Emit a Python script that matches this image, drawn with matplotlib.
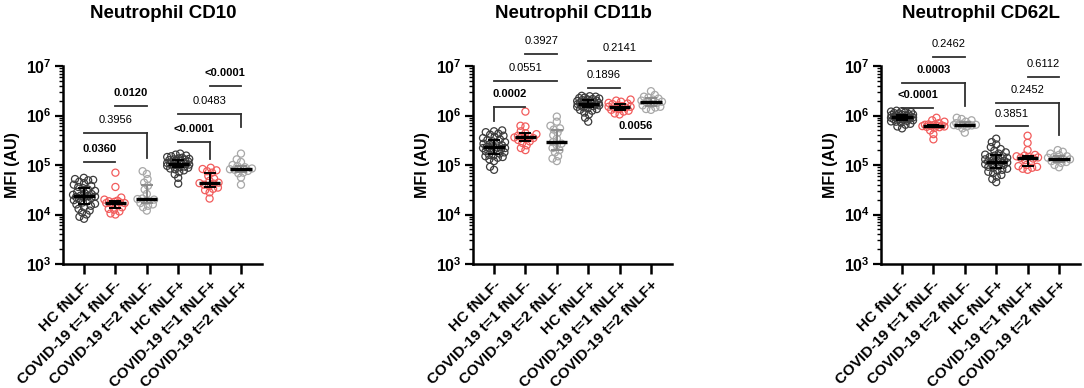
import numpy as np
import matplotlib
matplotlib.use("Agg")
import matplotlib.pyplot as plt

plt.rcParams['font.family'] = ['Liberation Sans', 'DejaVu Sans']
plt.rcParams['mathtext.fontset'] = 'custom'
plt.rcParams['mathtext.rm'] = 'Liberation Sans:bold'
plt.rcParams['mathtext.bf'] = 'Liberation Sans:bold'
plt.rcParams['mathtext.default'] = 'bf'

groups = ['HC fNLF-', 'COVID-19 t=1 fNLF-', 'COVID-19 t=2 fNLF-',
          'HC fNLF+', 'COVID-19 t=1 fNLF+', 'COVID-19 t=2 fNLF+']
titles = ['Neutrophil CD10', 'Neutrophil CD11b', 'Neutrophil CD62L']
ytick_vals = [1e3, 1e4, 1e5, 1e6, 1e7]
ytick_labels = [r'$\mathbf{10^{3}}$', r'$\mathbf{10^{4}}$', r'$\mathbf{10^{5}}$',
                r'$\mathbf{10^{6}}$', r'$\mathbf{10^{7}}$']

# ---- CD10 ----
cd10_hc_neg = [8.2e3, 9.0e3, 1.0e4, 1.1e4, 1.2e4, 1.3e4, 1.4e4, 1.5e4, 1.6e4, 1.65e4, 1.75e4, 1.85e4,
               1.95e4, 2.05e4, 2.15e4, 2.2e4, 2.25e4, 2.3e4, 2.35e4, 2.4e4, 2.5e4, 2.6e4, 2.7e4, 2.85e4,
               3.0e4, 3.2e4, 3.4e4, 3.6e4, 3.8e4, 4.0e4, 4.3e4, 4.6e4, 4.9e4, 5.2e4, 5.5e4, 5.0e4]
cd10_c1_neg = [1.0e4, 1.05e4, 1.15e4, 1.25e4, 1.3e4, 1.4e4, 1.55e4, 1.65e4, 1.7e4, 1.7e4, 1.75e4,
               1.8e4, 1.85e4, 1.9e4, 2.0e4, 2.2e4, 3.6e4, 7.0e4]
cd10_c2_neg = [1.2e4, 1.4e4, 1.5e4, 1.6e4, 1.7e4, 1.9e4, 2.0e4, 2.05e4, 2.1e4, 2.6e4, 3.2e4, 3.8e4,
               4.4e4, 5.2e4, 6.6e4, 7.5e4]
cd10_hc_pos = [4.2e4, 5.5e4, 6.5e4, 7.2e4, 7.8e4, 8.2e4, 8.5e4, 8.8e4, 9.0e4, 9.3e4, 9.6e4, 9.8e4,
               1.0e5, 1.02e5, 1.04e5, 1.05e5, 1.05e5, 1.06e5, 1.08e5, 1.1e5, 1.12e5, 1.15e5, 1.18e5,
               1.2e5, 1.22e5, 1.25e5, 1.28e5, 1.3e5, 1.33e5, 1.36e5, 1.4e5, 1.45e5, 1.5e5, 1.55e5,
               1.62e5, 1.7e5]
cd10_c1_pos = [2.1e4, 2.8e4, 3.1e4, 3.3e4, 3.5e4, 3.8e4, 4.0e4, 4.2e4, 4.3e4, 4.4e4, 4.8e4, 5.3e4,
               6.0e4, 7.0e4, 7.5e4, 7.8e4, 8.3e4, 8.8e4]
cd10_c2_pos = [4.0e4, 5.6e4, 6.8e4, 7.0e4, 7.6e4, 8.0e4, 8.2e4, 8.2e4, 8.5e4, 9.0e4, 9.5e4, 1.0e5,
               1.15e5, 1.3e5, 1.7e5]

# ---- CD11b ----
cd11b_hc_neg = [8.0e4, 9.2e4, 1.2e5, 1.3e5, 1.4e5, 1.45e5, 1.5e5, 1.55e5, 1.6e5, 1.7e5, 1.8e5, 1.9e5,
                2.0e5, 2.1e5, 2.15e5, 2.2e5, 2.2e5, 2.25e5, 2.3e5, 2.4e5, 2.5e5, 2.6e5, 2.7e5, 2.8e5,
                2.9e5, 3.0e5, 3.2e5, 3.3e5, 3.5e5, 3.7e5, 3.9e5, 4.1e5, 4.3e5, 4.6e5, 4.8e5, 5.0e5]
cd11b_c1_neg = [2.0e5, 2.2e5, 2.5e5, 2.8e5, 3.0e5, 3.2e5, 3.4e5, 3.5e5, 3.6e5, 3.6e5, 3.7e5, 3.9e5,
                4.2e5, 4.4e5, 4.8e5, 6.0e5, 6.2e5, 1.2e6]
cd11b_c2_neg = [1.2e5, 1.35e5, 1.5e5, 1.8e5, 2.0e5, 2.2e5, 2.5e5, 2.7e5, 2.9e5, 3.4e5, 4.0e5, 4.5e5,
                5.2e5, 5.5e5, 6.2e5, 7.5e5, 9.5e5]
cd11b_hc_pos = [7.5e5, 9.0e5, 1.05e6, 1.15e6, 1.25e6, 1.3e6, 1.35e6, 1.4e6, 1.45e6, 1.5e6, 1.55e6,
                1.6e6, 1.62e6, 1.65e6, 1.67e6, 1.7e6, 1.7e6, 1.72e6, 1.75e6, 1.78e6, 1.8e6, 1.83e6,
                1.86e6, 1.9e6, 1.93e6, 1.96e6, 2.0e6, 2.05e6, 2.1e6, 2.15e6, 2.2e6, 2.25e6, 2.3e6,
                2.4e6, 2.45e6, 2.5e6]
cd11b_c1_pos = [1.05e6, 1.1e6, 1.2e6, 1.25e6, 1.3e6, 1.35e6, 1.4e6, 1.45e6, 1.5e6, 1.5e6, 1.55e6,
                1.6e6, 1.7e6, 1.75e6, 1.8e6, 1.9e6, 2.0e6, 2.1e6]
cd11b_c2_pos = [1.3e6, 1.35e6, 1.45e6, 1.5e6, 1.6e6, 1.7e6, 1.8e6, 1.85e6, 1.9e6, 2.0e6, 2.1e6, 2.2e6,
                2.3e6, 2.4e6, 2.6e6, 3.1e6]

# ---- CD62L ----
cd62l_hc_neg = [5.5e5, 6.0e5, 6.5e5, 6.8e5, 7.2e5, 7.5e5, 7.6e5, 7.8e5, 8.0e5, 8.2e5, 8.4e5, 8.5e5,
                8.6e5, 8.8e5, 8.9e5, 9.0e5, 9.0e5, 9.1e5, 9.2e5, 9.3e5, 9.4e5, 9.5e5, 9.6e5, 9.8e5,
                1.0e6, 1.02e6, 1.04e6, 1.05e6, 1.07e6, 1.1e6, 1.12e6, 1.15e6, 1.18e6, 1.2e6, 1.22e6,
                1.25e6]
cd62l_c1_neg = [3.3e5, 4.2e5, 5.0e5, 5.6e5, 5.8e5, 5.9e5, 6.0e5, 6.1e5, 6.2e5, 6.2e5, 6.3e5, 6.4e5,
                6.5e5, 6.6e5, 7.0e5, 7.5e5, 8.0e5, 9.0e5]
cd62l_c2_neg = [4.5e5, 5.5e5, 6.0e5, 6.2e5, 6.3e5, 6.4e5, 6.5e5, 6.5e5, 6.6e5, 6.8e5, 7.0e5, 7.5e5,
                8.0e5, 8.5e5, 9.0e5]
cd62l_hc_pos = [4.5e4, 5.2e4, 5.8e4, 6.3e4, 6.8e4, 7.3e4, 7.7e4, 8.0e4, 8.4e4, 8.8e4, 9.2e4, 9.6e4,
                1.0e5, 1.04e5, 1.08e5, 1.12e5, 1.15e5, 1.15e5, 1.18e5, 1.22e5, 1.26e5, 1.3e5, 1.35e5,
                1.4e5, 1.45e5, 1.5e5, 1.55e5, 1.62e5, 1.7e5, 1.8e5, 1.95e5, 2.1e5, 2.3e5, 2.6e5,
                2.9e5, 3.4e5]
cd62l_c1_pos = [8.0e4, 8.4e4, 8.8e4, 9.2e4, 9.5e4, 1.0e5, 1.1e5, 1.25e5, 1.35e5, 1.4e5, 1.42e5,
                1.45e5, 1.5e5, 1.55e5, 1.6e5, 2.0e5, 2.8e5, 3.9e5]
cd62l_c2_pos = [9.0e4, 1.0e5, 1.1e5, 1.15e5, 1.2e5, 1.25e5, 1.3e5, 1.35e5, 1.4e5, 1.45e5, 1.5e5,
                1.6e5, 1.7e5, 1.85e5, 2.0e5]

panels = [
    [cd10_hc_neg, cd10_c1_neg, cd10_c2_neg, cd10_hc_pos, cd10_c1_pos, cd10_c2_pos],
    [cd11b_hc_neg, cd11b_c1_neg, cd11b_c2_neg, cd11b_hc_pos, cd11b_c1_pos, cd11b_c2_pos],
    [cd62l_hc_neg, cd62l_c1_neg, cd62l_c2_neg, cd62l_hc_pos, cd62l_c1_pos, cd62l_c2_pos],
]

# comparisons: (group a, group b, p-value text, significant)
cd10_pvals = [(0, 1, '0.0360', True), (0, 2, '0.3956', False), (1, 2, '0.0120', True),
              (3, 4, '<0.0001', True), (3, 5, '0.0483', False), (4, 5, '<0.0001', True)]
cd11b_pvals = [(0, 1, '0.0002', True), (0, 2, '0.0551', False), (1, 2, '0.3927', False),
               (3, 4, '0.1896', False), (3, 5, '0.2141', False), (4, 5, '0.0056', True)]
cd62l_pvals = [(0, 1, '<0.0001', True), (0, 2, '0.0003', True), (1, 2, '0.2462', False),
               (3, 4, '0.3851', False), (3, 5, '0.2452', False), (4, 5, '0.6112', False)]
pvals = [cd10_pvals, cd11b_pvals, cd62l_pvals]

# bracket placement (log10 of line height, drop side, log10 of drop end) per comparison
bracket_pos = [
    [(5.06, None, None), (5.64, 'r', 5.14), (6.20, None, None),
     (5.46, 'r', 5.12), (6.04, 'r', 5.76), (6.60, None, None)],
    [(6.18, 'l', 5.88), (6.70, None, None), (7.24, None, None),
     (6.56, None, None), (7.10, None, None), (5.52, None, None)],
    [(6.16, None, None), (6.66, 'r', 6.20), (7.18, None, None),
     (5.78, None, None), (6.26, 'r', 5.60), (6.78, None, None)],
]

edge_colors = ['#3c3c3c', '#f25c5c', '#a8a8a8', '#3c3c3c', '#f25c5c', '#a8a8a8']
bar_colors = ['black', 'black', '#8a8a8a', 'black', 'black', '#8a8a8a']

FIG_W, FIG_H = 1084, 388
PX_PER_DEC = 50.0
PX_PER_GROUP = 31.4


def swarm_offsets(vals, d=5.0, cap=11.0):
    # simple beeswarm in pixel space, kept within +-cap pixels
    y = np.log10(vals) * PX_PER_DEC
    order = np.argsort(y)
    xs = np.zeros(len(y))
    placed = []
    grid = np.linspace(-cap, cap, 45)
    for i in order:
        cands = [0.0]
        for (xj, yj) in placed:
            dy = y[i] - yj
            if abs(dy) < d:
                dx = np.sqrt(d * d - dy * dy)
                cands += [xj + dx, xj - dx]
        cands = [c for c in cands if abs(c) <= cap]
        cands.sort(key=lambda c: (abs(c), c))
        chosen = None
        for c in cands:
            if all((c - xj) ** 2 + (y[i] - yj) ** 2 >= d * d - 1e-6 for (xj, yj) in placed):
                chosen = c
                break
        if chosen is None:
            best = -1
            for c in grid:
                m = min(((c - xj) ** 2 + (y[i] - yj) ** 2 for (xj, yj) in placed), default=1e9)
                if m > best:
                    best, chosen = m, c
        xs[i] = chosen
        placed.append((chosen, y[i]))
    return xs / PX_PER_GROUP


fig = plt.figure(figsize=(FIG_W / 100, FIG_H / 100), dpi=100)
spine_x = [63, 473, 881]

for k in range(3):
    ax = fig.add_axes([spine_x[k] / FIG_W, (FIG_H - 264) / FIG_H, 199 / FIG_W, 198 / FIG_H])
    ax.set_yscale('log')
    ax.set_ylim(1e3, 1e7)
    ax.set_xlim(-0.67, 5.67)

    for g, vals in enumerate(panels[k]):
        vals = np.array(vals)
        xo = swarm_offsets(vals)
        ax.scatter(g + xo, vals, s=26, facecolors='none', edgecolors=edge_colors[g],
                   linewidths=0.9, zorder=2, clip_on=False)
        q1, med, q3 = np.percentile(vals, [25, 50, 75])
        ax.plot([g - 0.34, g + 0.34], [med, med], color='black', lw=2.4, zorder=4,
                solid_capstyle='butt')
        ax.errorbar([g], [med], yerr=[[med - q1], [q3 - med]], fmt='none',
                    ecolor=bar_colors[g], elinewidth=1.4, capsize=4, capthick=1.4, zorder=3)

    for (a, b, txt, sig), (yl, side, yd) in zip(pvals[k], bracket_pos[k]):
        lc = '#303030'
        ax.plot([a, b], [10 ** yl, 10 ** yl], color=lc, lw=1.3, clip_on=False, zorder=5)
        if side == 'r':
            ax.plot([b, b], [10 ** yl, 10 ** yd], color=lc, lw=1.3, clip_on=False, zorder=5)
        elif side == 'l':
            ax.plot([a, a], [10 ** yl, 10 ** yd], color=lc, lw=1.3, clip_on=False, zorder=5)
        ax.text((a + b) / 2, 10 ** (yl + 0.26), txt, ha='center', va='center', fontsize=8,
                fontweight='bold' if sig else 'normal', clip_on=False)

    for s in ['top', 'right']:
        ax.spines[s].set_visible(False)
    for s in ['left', 'bottom']:
        ax.spines[s].set_linewidth(1.8)
    ax.set_xticks(range(6))
    ax.set_xticklabels(groups, rotation=45, ha='right', rotation_mode='anchor',
                       fontsize=11, fontweight='bold')
    ax.tick_params(axis='x', length=7, width=1.8, pad=3)
    ax.set_yticks(ytick_vals)
    ax.set_yticklabels(ytick_labels)
    ax.tick_params(axis='y', which='major', length=6, width=1.6, labelsize=11.5, pad=2)
    ax.tick_params(axis='y', which='minor', length=3, width=1.0)
    ax.set_ylabel('MFI (AU)', fontsize=11.5, fontweight='bold')
    ax.yaxis.set_label_coords(-0.215, 0.5)

    fig.text((spine_x[k] + 100) / FIG_W, 1 - 13 / FIG_H, titles[k], ha='center', va='center',
             fontsize=13.5, fontweight='bold')

fig.savefig('out.png', dpi=100)
